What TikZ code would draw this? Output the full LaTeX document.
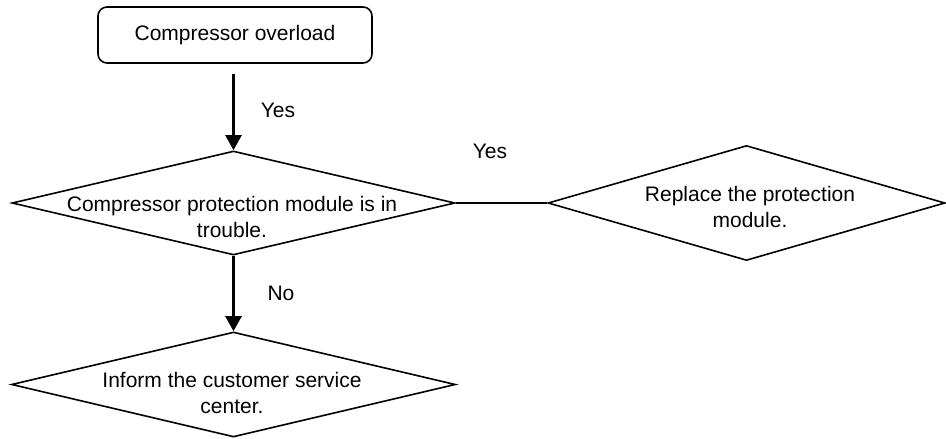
\documentclass[tikz,border=0pt]{standalone}
\usepackage{fontspec}
\setmainfont{Liberation Sans}
\usetikzlibrary{shapes.geometric,arrows.meta}
\begin{document}
\begin{tikzpicture}[x=1pt,y=-1pt,
  lw/.style={line width=1.6pt},
  txt/.style={font=\fontsize{21}{26}\selectfont, inner sep=0pt},
  startbox/.style={draw, lw, rounded corners=9pt, minimum width=274pt, minimum height=56pt, inner sep=0pt, txt},
  decision/.style={draw, lw, diamond, inner sep=0pt},
  dtext/.style={txt, align=center},
  flow/.style={line width=2.4pt, -{Triangle[length=15pt,width=16pt]}},
  lbl/.style={txt}]
\useasboundingbox (0,0) rectangle (946,439);
\node[startbox] (start) at (235,35) {Compressor overload};
\node[decision, minimum width=443pt, minimum height=104pt] (d1) at (233.5,203) {};
\node[dtext] (t1) at (232,217) {Compressor protection module is in\\trouble.};
\node[decision, minimum width=397pt, minimum height=115pt] (d2) at (746.5,203) {};
\node[dtext] (t2) at (750,207) {Replace the protection\\module.};
\node[decision, minimum width=444pt, minimum height=105pt] (d3) at (233.5,384.5) {};
\node[dtext] (t3) at (232,393) {Inform the customer service\\center.};
\draw[flow, shorten <=10pt] (d1.north |- start.south) -- (d1.north);
\node[lbl] (y1) at (278,110) {Yes};
\draw[lw] (d1.east) -- (d2.west);
\node[lbl] (y2) at (490,151) {Yes};
\draw[flow] (d1.south) -- (d3.north);
\node[lbl] (n1) at (281,293) {No};
\end{tikzpicture}
\end{document}
